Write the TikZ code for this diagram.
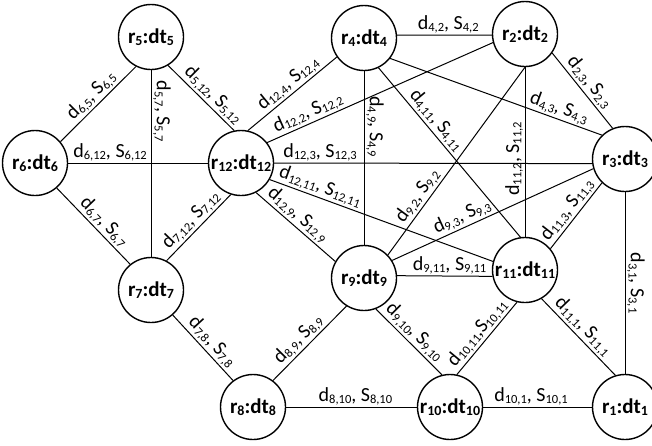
\documentclass[tikz,border=0pt]{standalone}
\usepackage{fontspec}
\setmainfont{Carlito}
\newcommand\sbx[1]{\raisebox{-2.2pt}{\fontsize{12.5}{13}\selectfont #1}}
\newcommand\sbn[1]{\raisebox{-2.5pt}{\fontsize{14}{15}\selectfont #1}}
\newcommand\ds[1]{d\sbx{#1}, S\sbx{#1}}
\newcommand\rn[1]{r\sbn{#1}:dt\sbn{#1}}
\tikzset{
  rnode/.style={circle, draw, line width=1.4pt, minimum size=65pt, inner sep=0pt, fill=white,
    font=\fontsize{21}{23}\selectfont\bfseries},
  link/.style={line width=1pt},
  labfont/.style={font=\fontsize{20}{22}\selectfont, inner sep=1.5pt},
  lab/.style={labfont, sloped, above},
  vlabR/.style={labfont, rotate=-90, anchor=south},
  vlabL/.style={labfont, rotate=90, anchor=south}
}
\begin{document}
\begin{tikzpicture}[x=1pt, y=-1pt]
\useasboundingbox (0,0) rectangle (652,445);
\node[rnode] (r5) at (151,37) {\rn{5}};
\node[rnode] (r6) at (35,163) {\rn{6}};
\node[rnode] (r12) at (241,163) {\rn{12}};
\node[rnode] (r7) at (151,290) {\rn{7}};
\node[rnode] (r8) at (253,407) {\rn{8}};
\node[rnode] (r9) at (364,278) {\rn{9}};
\node[rnode] (r10) at (450,407) {\rn{10}};
\node[rnode] (r1) at (625,407) {\rn{1}};
\node[rnode] (r4) at (364,38) {\rn{4}};
\node[rnode] (r2) at (525,34) {\rn{2}};
\node[rnode] (r3) at (625,159) {\rn{3}};
\node[rnode] (r11) at (525,270) {\rn{11}};

\draw[link] (r6.40) -- node[lab, pos=0.51] {\ds{6,5}} (r5.243);
\draw[link] (r5.south) -- node[vlabR, pos=0.22] {\ds{5,7}} (r7.north);
\draw[link] (r5.-59) -- node[lab, pos=0.57] {\ds{5,12}} (r12.102);
\draw[link] (r6.east) -- node[lab, pos=0.3] {\ds{6,12}} (r12.west);
\draw[link] (r6.-49) -- node[lab, pos=0.54] {\ds{6,7}} (r7.129);
\draw[link] (r7.62) -- node[lab, pos=0.5] {\ds{7,12}} (r12.-108);
\draw[link] (r7.-49) -- node[lab, pos=0.52] {\ds{7,8}} (r8.127);
\draw[link] (r8.53) -- node[lab, pos=0.45] {\ds{8,9}} (r9.238);
\draw[link] (r8.east) -- node[lab, pos=0.53] {\ds{8,10}} (r10.west);
\draw[link] (r10.east) -- node[lab, pos=0.44] {\ds{10,1}} (r1.west);
\draw[link] (r9.-69) -- node[lab, pos=0.47] {\ds{9,10}} (r10.104);
\draw[link] (r10.78) -- node[lab, pos=0.48] {d\sbx{10,11},S\sbx{10,11}} (r11.-104);
\draw[link] (r11.-60) -- node[lab, pos=0.46] {\ds{11,1}} (r1.107);
\draw[link] (r3.south) -- node[vlabR, pos=0.5] {\ds{3,1}} (r1.north);
\draw[link] (r9.4) -- node[lab, pos=0.55] {\ds{9,11}} (r11.191);
\draw[link] (r9.32) -- node[lab, pos=0.37] {\ds{9,3}} (r3.197);
\draw[link] (r9.44) -- node[lab, pos=0.28] {\ds{9,2}} (r2.south);
\draw[link] (r12.-30) -- node[lab, pos=0.21] {\ds{12,11}} (r11.165);
\draw[link] (r12.-63) -- node[lab, pos=0.44] {\ds{12,9}} (r9.150);
\draw[link] (r12.east) -- node[lab, pos=0.144] {\ds{12,3}} (r3.188);
\draw[link] (r12.38) -- node[lab, pos=0.2] {\ds{12,2}} (r2.195);
\draw[link] (r12.78) -- node[lab, pos=0.53] {\ds{12,4}} (r4.215);
\draw[link] (r4.5) -- node[lab, pos=0.54] {\ds{4,2}} (r2.182);
\draw[link] (r4.south) -- node[vlabR, pos=0.32] {\ds{4,9}} (r9.north);
\draw[link] (r4.-64) -- node[lab, pos=0.35] {\ds{4,11}} (r11.98);
\draw[link] (r4.-38) -- node[lab, pos=0.78] {\ds{4,3}} (r3.134);
\draw[link] (r2.-35) -- node[lab, pos=0.48] {\ds{2,3}} (r3.112);
\draw[link] (r2.south) -- node[vlabL, pos=0.54] {\ds{11,2}} (r11.north);
\draw[link] (r11.40) -- node[lab, pos=0.49] {\ds{11,3}} (r3.226);
\end{tikzpicture}
\end{document}
